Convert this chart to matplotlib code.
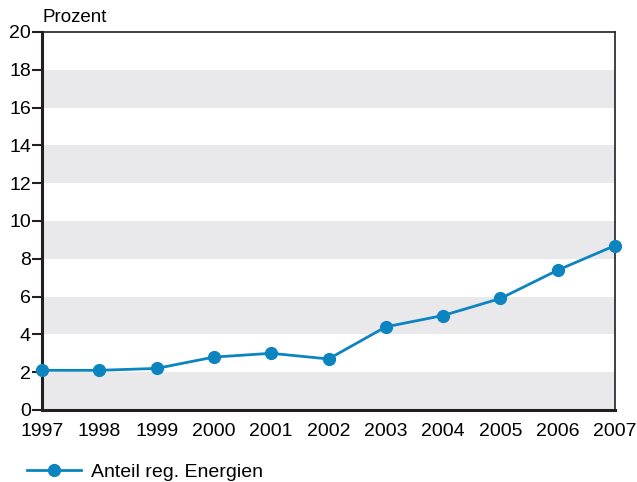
import matplotlib
matplotlib.use("Agg")
import matplotlib.pyplot as plt

years = [1997, 1998, 1999, 2000, 2001, 2002, 2003, 2004, 2005, 2006, 2007]
values = [2.1, 2.1, 2.2, 2.8, 3.0, 2.7, 4.4, 5.0, 5.9, 7.4, 8.7]
yticks = [0, 2, 4, 6, 8, 10, 12, 14, 16, 18, 20]

plt.rcParams['font.family'] = ['Liberation Sans', 'DejaVu Sans']
fig = plt.figure(figsize=(6.37, 4.82), dpi=100)
ax = fig.add_axes([42/637, 1-410/482, (615-42)/637, (410-32)/482])

for lo in range(0, 20, 4):
    ax.axhspan(lo, lo+2, color='#e9e9ec', lw=0, zorder=0)

color = '#0b84c0'
ax.plot(years, values, color=color, lw=2, marker='o', ms=8.5, clip_on=False, zorder=3,
        label='Anteil reg. Energien')

ax.set_xlim(1997, 2007)
ax.set_ylim(0, 20)
ax.set_yticks(yticks)
ax.set_xticks(years)
ax.tick_params(axis='y', direction='out', length=7, width=1.5, labelsize=14, pad=1, color='#231f20')
ax.tick_params(axis='x', length=0, labelsize=14, pad=9)
for s in ['left', 'bottom']:
    ax.spines[s].set_linewidth(2.2)
    ax.spines[s].set_color('#231f20')
for s in ['top', 'right']:
    ax.spines[s].set_linewidth(1.2)
    ax.spines[s].set_color('#231f20')

fig.text(42/637, 1-17/482, 'Prozent', fontsize=13.5, va='center', ha='left')

leg = ax.legend(loc='upper left', bbox_to_anchor=(-0.057, -0.095), frameon=False,
                fontsize=14, handlelength=2.8, handletextpad=0.5)

fig.savefig('out.png', dpi=100)
